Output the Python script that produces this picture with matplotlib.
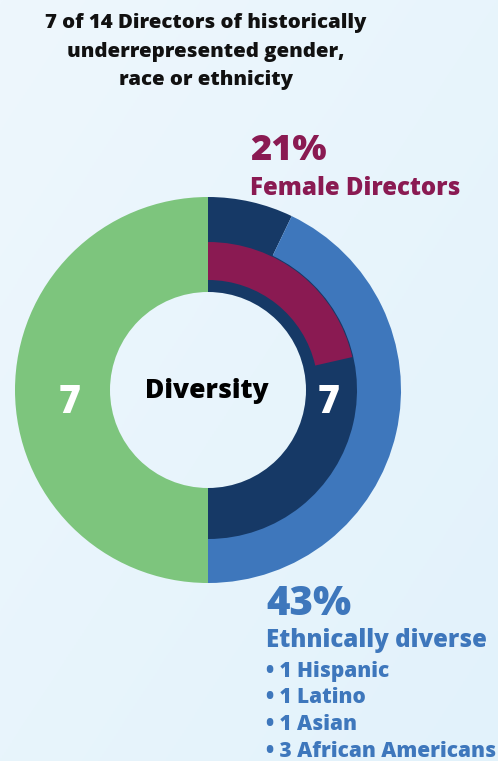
import numpy as np
import matplotlib
matplotlib.use("Agg")
import matplotlib.pyplot as plt
from matplotlib.colors import LinearSegmentedColormap

# ---- data ----
total_directors = 14
outer_values = [1, 6, 7]        # other diverse (navy), ethnically diverse (blue), rest (none)
inner_values = [7, 7]           # underrepresented (navy), rest (none)
green_values = [7, 7]           # underrepresented (none), not underrepresented (green)
female_values = [3, 11]         # female directors, others
left_count = "7"
right_count = "7"
female_pct = "21%"
ethnic_pct = "43%"
title_lines = ["7 of 14 Directors of historically", "underrepresented gender,", "race or ethnicity"]
ethnic_items = ["• 1 Hispanic", "• 1 Latino", "• 1 Asian", "• 3 African Americans"]

NAVY = "#163966"
BLUE = "#3e77bc"
GREEN = "#7dc57d"
MAGENTA = "#8a1a52"
BG = "#e6f4fc"

W, H = 498, 761
fig = plt.figure(figsize=(W / 100, H / 100), dpi=100)
ax = fig.add_axes([0, 0, 1, 1])

# background gradient
grad = np.linspace(0, 1, 256)
gx, gy = np.meshgrid(grad, grad)
g = (gx * 0.5 + (1 - gy) * 0.5)
cmap = LinearSegmentedColormap.from_list("bg", ["#eef7fd", "#e2f2fb"])
ax.imshow(g, extent=[0, W, 0, H], cmap=cmap, aspect="auto", zorder=0, origin="lower")

cx, cy = 208, H - 390
R_out = 193
R_mid = 149
R_hole = 98

def Y(yp):
    return H - yp

none = "none"
ax.pie(green_values, colors=[none, GREEN], startangle=90, counterclock=False,
       radius=R_out, center=(cx, cy), wedgeprops=dict(width=R_out - R_hole, linewidth=0))
ax.pie(inner_values, colors=[NAVY, none], startangle=90, counterclock=False,
       radius=R_mid + 1, center=(cx, cy), wedgeprops=dict(width=R_mid + 1 - R_hole, linewidth=0))
ax.pie(outer_values, colors=[NAVY, BLUE, none], startangle=90, counterclock=False,
       radius=R_out, center=(cx, cy), wedgeprops=dict(width=R_out - R_mid, linewidth=0))
ax.pie(female_values, colors=[MAGENTA, none], startangle=90, counterclock=False,
       radius=148, center=(cx, cy), wedgeprops=dict(width=38, linewidth=0))

ax.set_xlim(0, W)
ax.set_ylim(0, H)
ax.set_aspect("auto")
ax.axis("off")

FONT = ["Open Sans", "DejaVu Sans"]
WT = "heavy"

for line, base in zip(title_lines, [28, 57, 85]):
    ax.text(206, Y(base), line, ha="center", va="baseline", fontsize=14.7,
            fontweight=WT, color="#111111", family=FONT)

ax.text(207, Y(398), "Diversity", ha="center", va="baseline", fontsize=19,
        fontweight=WT, color="#000000", family=FONT)
ax.text(70, Y(413), left_count, ha="center", va="baseline", fontsize=27,
        fontweight=WT, color="white", family=FONT)
ax.text(329, Y(413), right_count, ha="center", va="baseline", fontsize=27,
        fontweight=WT, color="white", family=FONT)

ax.text(250, Y(160), female_pct, ha="left", va="baseline", fontsize=26,
        fontweight=WT, color=MAGENTA, family=FONT)
ax.text(250, Y(195), "Female Directors", ha="left", va="baseline", fontsize=17.3,
        fontweight=WT, color=MAGENTA, family=FONT)

ax.text(266, Y(615), ethnic_pct, ha="left", va="baseline", fontsize=29,
        fontweight=WT, color=BLUE, family=FONT)
ax.text(266, Y(647), "Ethnically diverse", ha="left", va="baseline", fontsize=17.3,
        fontweight=WT, color=BLUE, family=FONT)
for item, base in zip(ethnic_items, [677, 703, 730, 757]):
    ax.text(266, Y(base), item, ha="left", va="baseline", fontsize=15,
            fontweight=WT, color=BLUE, family=FONT)

fig.savefig("out.png", dpi=100, facecolor=BG)
